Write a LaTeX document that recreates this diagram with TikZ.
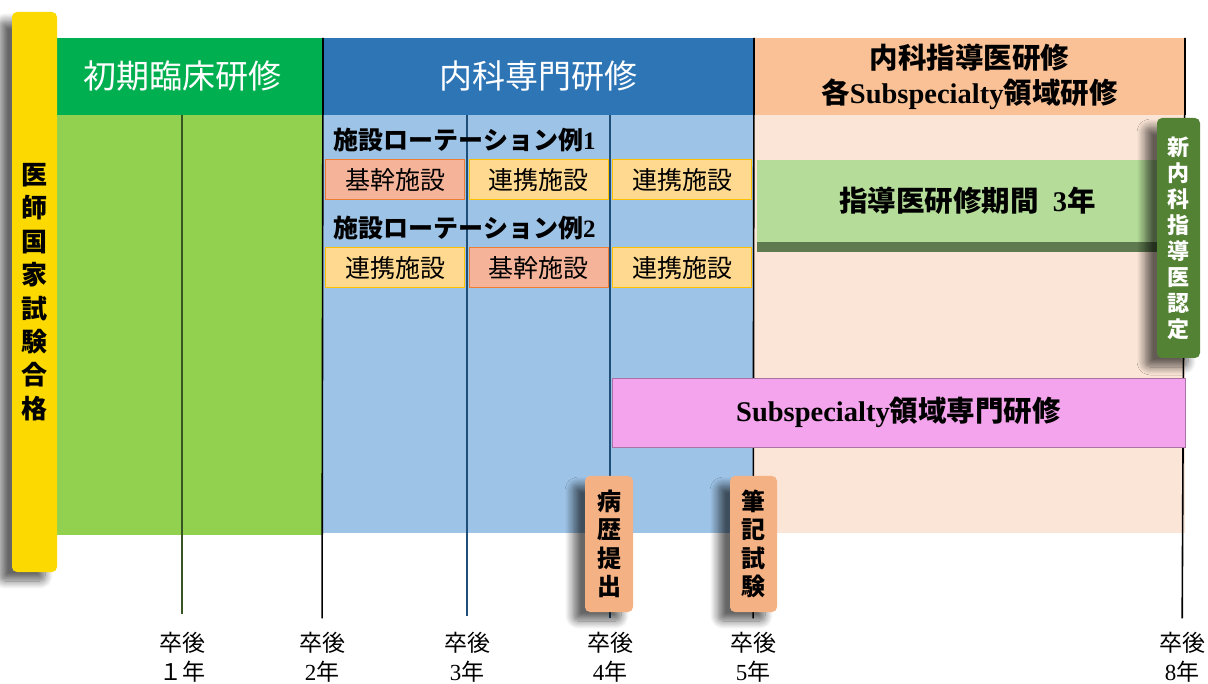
\documentclass[tikz,border=0pt]{standalone}
\usepackage{fontspec}
\setmainfont{Noto Sans CJK JP}
\newfontfamily\lat{Liberation Serif}
\usepackage{tikz}
\usetikzlibrary{shadows.blur}

\definecolor{passyellow}{HTML}{FCD900}
\definecolor{hdgreen}{HTML}{00B050}
\definecolor{bdgreen}{HTML}{92D050}
\definecolor{hdblue}{HTML}{2E75B6}
\definecolor{bdblue}{HTML}{9DC3E6}
\definecolor{hdorange}{HTML}{F9C195}
\definecolor{bdpeach}{HTML}{FBE5D6}
\definecolor{kikanfill}{HTML}{F5B49A}
\definecolor{kikanline}{HTML}{ED7D31}
\definecolor{renkeifill}{HTML}{FFD98F}
\definecolor{renkeiline}{HTML}{FFC000}
\definecolor{shidoufill}{HTML}{B5DD99}
\definecolor{shidouedge}{HTML}{5E7A4E}
\definecolor{nintei}{HTML}{548235}
\definecolor{subsp}{HTML}{F4A4EC}
\definecolor{examfill}{HTML}{F4B183}
\definecolor{linegreen}{HTML}{375623}
\definecolor{lineblue}{HTML}{1F4E79}

\begin{document}
\begin{tikzpicture}[x=1pt, y=-1pt,
  box/.style={rectangle, inner sep=0pt, outer sep=0pt},
  head/.style={box, minimum height=77pt, align=center},
  body/.style={box, minimum height=418pt},
  site/.style={box, minimum width=139pt, minimum height=40pt, line width=1pt,
    font=\fontsize{25}{28}\selectfont},
  kikan/.style={site, fill=kikanfill, draw=kikanline},
  renkei/.style={site, fill=renkeifill, draw=renkeiline},
  rotlabel/.style={anchor=west, font=\fontsize{25}{28}\selectfont\bfseries},
  yearline/.style={line width=1.6pt, shorten >=10pt},
  year/.style={align=center, font=\fontsize{23}{29}\selectfont},
  tag/.style={box, rounded corners=5pt, align=center,
    blur shadow={shadow xshift=-12pt, shadow yshift=-9pt, shadow opacity=60,
      shadow blur steps=10, shadow blur radius=8pt}},
]
  \useasboundingbox (0,0) rectangle (1208,684);

  % backgrounds
  \node[body, fill=bdgreen, minimum width=266pt, minimum height=420pt] (bodyA) at (190,325) {};
  \node[body, fill=bdblue, minimum width=431pt] (bodyB) at (538.5,324) {};
  \node[body, fill=bdpeach, minimum width=431pt] (bodyC) at (969.5,324) {};

  % year labels
  \node[year] (y1) at (182,657) {卒後\\１年};
  \node[year] (y2) at (322,657) {卒後\\{\lat 2}年};
  \node[year] (y3) at (467,657) {卒後\\{\lat 3}年};
  \node[year] (y4) at (610,657) {卒後\\{\lat 4}年};
  \node[year] (y5) at (753,657) {卒後\\{\lat 5}年};
  \node[year] (y8) at (1182,657) {卒後\\{\lat 8}年};

  % year lines
  \coordinate (t1) at (182,115);
  \coordinate (t2) at (323,38);
  \coordinate (t3) at (467,115);
  \coordinate (t4) at (610,115);
  \coordinate (t5) at (754,38);
  \coordinate (t8) at (1185,38);
  \draw[yearline, linegreen, shorten >=14pt] (t1) -- (y1);
  \draw[yearline, black] (t2) -- (y2);
  \draw[yearline, lineblue, shorten >=12pt] (t3) -- (y3);
  \draw[yearline, lineblue] (t4) -- (y4);
  \draw[yearline, black] (t5) -- (y5);
  \draw[yearline, black] (t8) -- (y8);

  % headers
  \node[head, fill=hdgreen, minimum width=266pt, text=white,
    font=\fontsize{33}{36}\selectfont] (hdA) at (190,76.5) {初期臨床研修\hspace{16pt}};
  \node[head, fill=hdblue, minimum width=431pt, text=white,
    font=\fontsize{33}{36}\selectfont] (hdB) at (538.5,76.5) {内科専門研修};
  \node[head, fill=hdorange, minimum width=431pt,
    font=\fontsize{28.5}{35}\selectfont\bfseries] (hdC) at (969.5,76.5)
    {内科指導医研修\\各{\lat\bfseries Subspecialty}領域研修};
  \draw[line width=1.6pt] (t2) -- (323,115);
  \draw[line width=1.6pt] (t5) -- (754,115);
  \draw[line width=1.6pt] (t8) -- (1185,115);

  % rotation examples
  \node[rotlabel] (rot1) at (330,140) {施設ローテーション例{\lat\bfseries 1}};
  \node[kikan] (r1a) at (395,180) {基幹施設};
  \node[renkei] (r1b) at (538.5,180) {連携施設};
  \node[renkei] (r1c) at (682,180) {連携施設};
  \node[rotlabel] (rot2) at (330,228) {施設ローテーション例{\lat\bfseries 2}};
  \node[renkei] (r2a) at (395,268) {連携施設};
  \node[kikan] (r2b) at (538.5,268) {基幹施設};
  \node[renkei] (r2c) at (682,268) {連携施設};

  % bars
  \fill[shidouedge] (757,238) rectangle (1160,252);
  \node[box, fill=shidoufill, minimum width=403pt, minimum height=82pt,
    font=\fontsize{28.5}{30}\selectfont\bfseries] (shidou) at (958.5,201)
    {\hspace{18pt}指導医研修期間\hspace{14pt}{\lat\bfseries 3}年};
  \node[box, fill=subsp, minimum width=573pt, minimum height=69pt,
    draw=subsp!70!black, line width=.8pt,
    font=\fontsize{28.5}{30}\selectfont\bfseries] (subsp) at (898.5,412.5)
    {{\lat\bfseries Subspecialty}領域専門研修};

  % tags
  \node[tag, fill=passyellow, minimum width=45pt, minimum height=560pt,
    font=\fontsize{26}{33.4}\selectfont\bfseries] (pass) at (34.5,292)
    {医\\師\\国\\家\\試\\験\\合\\格};
  \node[tag, fill=nintei, text=white, minimum width=43pt, minimum height=240pt,
    font=\fontsize{22}{26}\selectfont\bfseries] (nintei) at (1178.5,238)
    {新\\内\\科\\指\\導\\医\\認\\定};
  \node[tag, fill=examfill, minimum width=48pt, minimum height=136pt,
    font=\fontsize{24}{28.5}\selectfont\bfseries] (byoreki) at (609,544)
    {病\\歴\\提\\出};
  \node[tag, fill=examfill, minimum width=47pt, minimum height=136pt,
    font=\fontsize{24}{28.5}\selectfont\bfseries] (hikki) at (753.5,544)
    {筆\\記\\試\\験};
\end{tikzpicture}
\end{document}
